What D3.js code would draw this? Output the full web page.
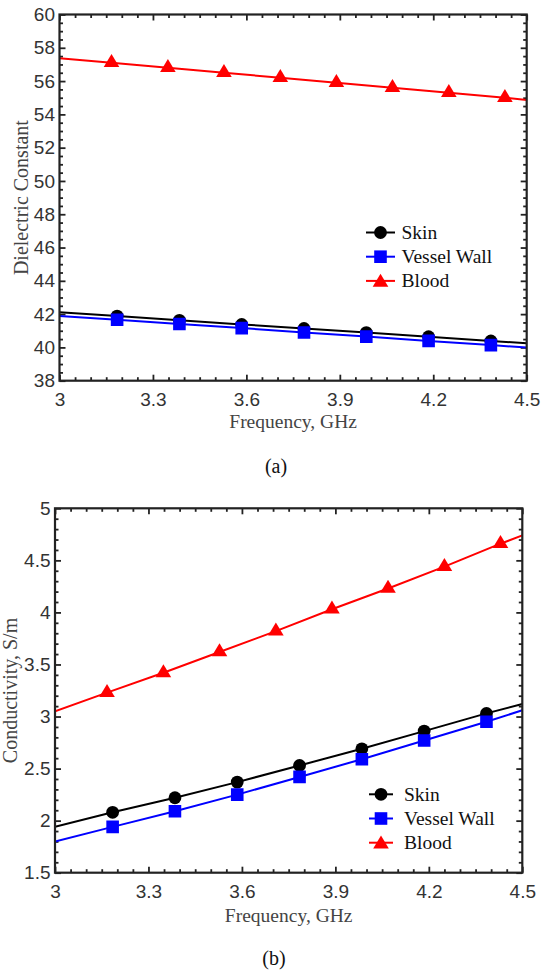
<!DOCTYPE html>
<html>
<head>
<meta charset="utf-8">
<script src="https://cdn.jsdelivr.net/npm/d3@7"></script>
<style>
  html, body { margin: 0; padding: 0; background: #fff; }
  svg { display: block; }
</style>
</head>
<body>
<div id="chart"></div>
<script>
// ---------------- data ----------------
const seriesNames = ["Skin", "Vessel Wall", "Blood"];
const seriesColors = ["#000000", "#0000ff", "#ff0000"];
const seriesShapes = ["circle", "square", "triangle"];

const freqTicks = [3, 3.3, 3.6, 3.9, 4.2, 4.5];
const epsTicks = [38, 40, 42, 44, 46, 48, 50, 52, 54, 56, 58, 60];
const sigmaTicks = [1.5, 2, 2.5, 3, 3.5, 4, 4.5, 5];

// frequency samples (GHz); first/last points are curve ends, inner points carry markers
const skinFreq   = [3, 3.185, 3.385, 3.585, 3.785, 3.985, 4.185, 4.385, 4.5];
const vesselFreq = [3, 3.185, 3.385, 3.585, 3.785, 3.985, 4.185, 4.385, 4.5];
const bloodFreq  = [3, 3.167, 3.348, 3.528, 3.709, 3.889, 4.069, 4.25, 4.43, 4.5];

// (a) dielectric constant
const skinEps   = [42.11, 41.88, 41.63, 41.38, 41.14, 40.89, 40.64, 40.39, 40.25];
const vesselEps = [41.89, 41.66, 41.41, 41.16, 40.90, 40.65, 40.39, 40.14, 39.99];
const bloodEps  = [57.37, 57.10, 56.80, 56.50, 56.20, 55.90, 55.60, 55.30, 55.00, 54.87];

// (b) conductivity, S/m
const skinSigma   = [1.94, 2.08, 2.22, 2.37, 2.53, 2.69, 2.86, 3.03, 3.12];
const vesselSigma = [1.80, 1.94, 2.09, 2.25, 2.42, 2.59, 2.77, 2.95, 3.06];
const bloodSigma  = [3.05, 3.23, 3.42, 3.62, 3.82, 4.03, 4.23, 4.44, 4.66, 4.74];

// ---------------- drawing ----------------
const W = 541, H = 971;
const svg = d3.select("#chart").append("svg").attr("width", W).attr("height", H);

const sansFont = "'Liberation Sans', Arial, sans-serif";
const serifFont = "'Liberation Serif', 'Times New Roman', serif";

function markerPath(shape) {
  if (shape === "circle") return d3.symbol(d3.symbolCircle, Math.PI * 6.4 * 6.4)();
  if (shape === "square") { const s = 6.3; return `M${-s},${-s}H${s}V${s}H${-s}Z`; }
  const w = 7.8, h = 13;
  return `M0,${-h * 2 / 3}L${w},${h / 3}L${-w},${h / 3}Z`;
}

function range(a, b, step) {
  const out = [];
  const n = Math.round((b - a) / step);
  for (let i = 0; i <= n; i++) out.push(+(a + i * step).toFixed(4));
  return out;
}

function drawPanel(p) {
  const g = svg.append("g");
  const x = d3.scaleLinear().domain([freqTicks[0], freqTicks[freqTicks.length - 1]]).range([p.left, p.right]);
  const y = d3.scaleLinear().domain([p.yTicks[0], p.yTicks[p.yTicks.length - 1]]).range([p.bottom, p.top]);

  const xMinor = range(3, 4.5, 0.05).filter(v => !freqTicks.some(t => Math.abs(t - v) < 1e-6));
  const yMinor = range(p.yTicks[0], p.yTicks[p.yTicks.length - 1], p.yMinorStep)
    .filter(v => !p.yTicks.some(t => Math.abs(t - v) < 1e-6));

  const majLen = 6, minLen = 3.5;
  const tickStyle = sel => {
    sel.select(".domain").remove();
    sel.selectAll(".tick line").attr("stroke", "#222").attr("stroke-width", 1.8);
    sel.selectAll(".tick text").attr("fill", "#333").style("font-family", sansFont).style("font-size", "19px");
  };

  // bottom
  g.append("g").attr("transform", `translate(0,${p.bottom})`)
    .call(d3.axisBottom(x).tickValues(xMinor).tickSize(-minLen).tickFormat("")).call(tickStyle);
  g.append("g").attr("transform", `translate(0,${p.bottom})`)
    .call(d3.axisBottom(x).tickValues(freqTicks).tickSize(-majLen).tickPadding(11.5).tickFormat(d3.format("~g"))).call(tickStyle);
  // top
  g.append("g").attr("transform", `translate(0,${p.top})`)
    .call(d3.axisTop(x).tickValues(xMinor).tickSize(-minLen).tickFormat("")).call(tickStyle);
  g.append("g").attr("transform", `translate(0,${p.top})`)
    .call(d3.axisTop(x).tickValues(freqTicks).tickSize(-majLen).tickFormat("")).call(tickStyle);
  // left
  g.append("g").attr("transform", `translate(${p.left},0)`)
    .call(d3.axisLeft(y).tickValues(yMinor).tickSize(-minLen).tickFormat("")).call(tickStyle);
  g.append("g").attr("transform", `translate(${p.left},0)`)
    .call(d3.axisLeft(y).tickValues(p.yTicks).tickSize(-majLen).tickPadding(4.5).tickFormat(d3.format("~g"))).call(tickStyle);
  // right
  g.append("g").attr("transform", `translate(${p.right},0)`)
    .call(d3.axisRight(y).tickValues(yMinor).tickSize(-minLen).tickFormat("")).call(tickStyle);
  g.append("g").attr("transform", `translate(${p.right},0)`)
    .call(d3.axisRight(y).tickValues(p.yTicks).tickSize(-majLen).tickFormat("")).call(tickStyle);

  // clip
  const clipId = "clip" + p.id;
  svg.append("clipPath").attr("id", clipId).append("rect")
    .attr("x", p.left).attr("y", p.top).attr("width", p.right - p.left).attr("height", p.bottom - p.top);

  const line = d3.line().x(d => x(d[0])).y(d => y(d[1]));
  const plot = g.append("g").attr("clip-path", `url(#${clipId})`);
  p.series.forEach((s, i) => {
    const pts = s.f.map((f, k) => [f, s.v[k]]);
    plot.append("path").datum(pts).attr("d", line)
      .attr("fill", "none").attr("stroke", seriesColors[i]).attr("stroke-width", 2);
  });
  p.series.forEach((s, i) => {
    const pts = s.f.map((f, k) => [f, s.v[k]]).slice(1, -1);
    plot.selectAll(null).data(pts).enter().append("path")
      .attr("d", markerPath(seriesShapes[i]))
      .attr("transform", d => `translate(${x(d[0])},${y(d[1])})`)
      .attr("fill", seriesColors[i]);
  });

  // frame
  g.append("rect").attr("x", p.left).attr("y", p.top)
    .attr("width", p.right - p.left).attr("height", p.bottom - p.top)
    .attr("fill", "none").attr("stroke", "#222").attr("stroke-width", 2.2);

  // axis titles
  g.append("text").attr("x", (p.left + p.right) / 2).attr("y", p.xTitleY)
    .attr("text-anchor", "middle").attr("dominant-baseline", "central")
    .style("font-family", serifFont).style("font-size", "19.5px").attr("fill", "#444")
    .text("Frequency, GHz");
  g.append("text")
    .attr("transform", `translate(${p.yTitleX},${(p.top + p.bottom) / 2}) rotate(-90)`)
    .attr("text-anchor", "middle").attr("dominant-baseline", "central")
    .style("font-family", serifFont).style("font-size", "20px").attr("fill", "#444")
    .text(p.yTitle);

  // legend
  const lg = g.append("g");
  seriesNames.forEach((name, i) => {
    const ly = p.legY + i * p.legStep;
    lg.append("line").attr("x1", p.legX1).attr("x2", p.legX2).attr("y1", ly).attr("y2", ly)
      .attr("stroke", seriesColors[i]).attr("stroke-width", 2);
    lg.append("path").attr("d", markerPath(seriesShapes[i]))
      .attr("transform", `translate(${(p.legX1 + p.legX2) / 2},${ly + (seriesShapes[i] === "triangle" ? 1.5 : 0)})`)
      .attr("fill", seriesColors[i]);
    lg.append("text").attr("x", p.legTextX).attr("y", ly).attr("dominant-baseline", "central")
      .style("font-family", serifFont).style("font-size", "19.5px").attr("fill", "#111")
      .text(name);
  });

  // caption
  g.append("text").attr("x", p.capX).attr("y", p.capY)
    .attr("text-anchor", "middle").attr("dominant-baseline", "central")
    .style("font-family", serifFont).style("font-size", "20px").attr("fill", "#111")
    .text(p.caption);
}

drawPanel({
  id: "a", left: 59.5, right: 526.7, top: 14.5, bottom: 380.7,
  yTicks: epsTicks, yMinorStep: 0.5, yTitle: "Dielectric Constant",
  series: [{ f: skinFreq, v: skinEps }, { f: vesselFreq, v: vesselEps }, { f: bloodFreq, v: bloodEps }],
  xTitleY: 421.7, yTitleX: 20.5,
  legX1: 366, legX2: 395, legTextX: 401.5, legY: 232.5, legStep: 24.2,
  caption: "(a)", capX: 276, capY: 465.5
});

drawPanel({
  id: "b", left: 55, right: 522.3, top: 508.3, bottom: 872.7,
  yTicks: sigmaTicks, yMinorStep: 0.1, yTitle: "Conductivity, S/m",
  series: [{ f: skinFreq, v: skinSigma }, { f: vesselFreq, v: vesselSigma }, { f: bloodFreq, v: bloodSigma }],
  xTitleY: 915, yTitleX: 10,
  legX1: 369, legX2: 393, legTextX: 404, legY: 794.3, legStep: 24.2,
  caption: "(b)", capX: 274, capY: 958
});
</script>
</body>
</html>
